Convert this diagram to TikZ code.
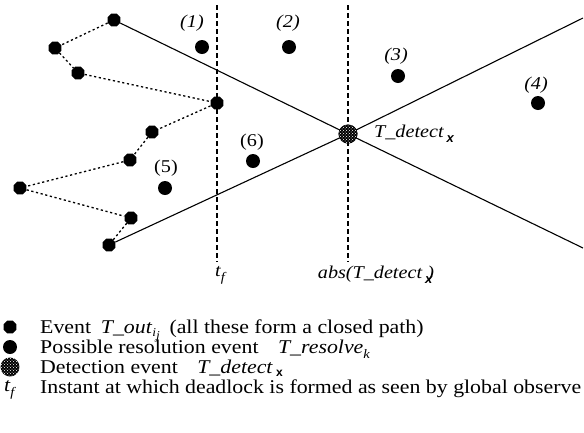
\documentclass[tikz,border=0pt]{standalone}
\usepackage{fontspec}
\setmainfont[FakeStretch=1.12]{Liberation Serif}
\setsansfont{Liberation Sans}
\usetikzlibrary{shapes.geometric,patterns}
\tikzset{
  ev/.style={regular polygon, regular polygon sides=8, fill=black, inner sep=0pt, minimum size=14pt},
  res/.style={circle, fill=black, inner sep=0pt, minimum size=14pt},
  det/.style={circle, fill=black, inner sep=0pt, minimum size=19pt, postaction={pattern=crosshatch dots, pattern color=white}},
  pathline/.style={line width=1.3pt, dash pattern=on 2.2pt off 2.6pt},
  cone/.style={line width=1.1pt},
  vline/.style={line width=1.1pt, dash pattern=on 5pt off 3pt},
  lab/.style={font=\fontsize{18}{19}\selectfont, inner sep=0pt},
  leg/.style={font=\fontsize{19.5}{20}\selectfont, inner sep=0pt, anchor=base west}
}
\newcommand{\subx}{\raisebox{-5pt}{\fontsize{13}{13}\selectfont\sffamily\bfseries x}}
\newcommand{\legsubx}{\raisebox{-3pt}{\fontsize{12}{12}\selectfont\sffamily\bfseries x}}
\newcommand{\subsc}[1]{\raisebox{-5pt}{\fontsize{13}{13}\selectfont\itshape #1}}
\begin{document}
\begin{tikzpicture}[x=1pt,y=-1pt]
\useasboundingbox (0,0) rectangle (584,432);
% events
\node[ev] (a) at (114,20) {};
\node[ev] (b) at (55,48) {};
\node[ev] (c) at (78,73) {};
\node[ev] (d) at (217,103) {};
\node[ev] (e) at (152,132) {};
\node[ev] (f) at (130,160) {};
\node[ev] (g) at (20,188) {};
\node[ev] (h) at (131,218) {};
\node[ev] (i) at (109,245) {};
% detection
\node[det] (x) at (348,134) {};
\coordinate (ebr) at (583,248);
\coordinate (etr) at (583,18);
% vertical lines
\coordinate (tftop) at (217,5);
\coordinate (tfbot) at (217,262);
\coordinate (abtop) at (348,5);
\coordinate (abbot) at (348,262);
\draw[vline] (tftop) -- (tfbot);
\draw[vline] (abtop) -- (abbot);
% cone lines
\draw[cone] (a) -- (x.center) -- (ebr);
\draw[cone] (i) -- (x.center) -- (etr);
\node[det] at (x) {};
% dotted path
\draw[pathline] (a) -- (b) -- (c) -- (d) -- (e) -- (f) -- (g) -- (h) -- (i);
% resolution events
\node[res] (r1) at (202,47) {};
\node[res] (r2) at (289,47) {};
\node[res] (r3) at (398,76) {};
\node[res] (r4) at (538,103) {};
\node[res] (r5) at (165,188) {};
\node[res] (r6) at (253,161) {};
\node[lab] (l1) at (192,23) {\itshape (1)};
\node[lab] (l2) at (288,23) {\itshape (2)};
\node[lab] (l3) at (396,56) {\itshape (3)};
\node[lab] (l4) at (536,85) {\itshape (4)};
\node[lab] (l5) at (166,168) {(5)};
\node[lab] (l6) at (252,142) {(6)};
\node[lab, anchor=west] (lx) at (374,134) {\itshape T\_detect\,\subx};
\node[lab] (ltf) at (220,275) {\itshape t\subsc{f}};
\node[lab] (lab) at (376,275) {\itshape abs(T\_detect\,\subx\kern-5pt)};
% legend
\node[ev] (s1) at (10,327) {};
\node[res] (s2) at (10,347) {};
\node[det] (s3) at (10,367) {};
\node[leg] (t1) at (40,333) {Event\enspace \textit{T\_out}\raisebox{-3pt}{\fontsize{12}{12}\selectfont\itshape i\raisebox{-3pt}{j}}\enspace (all these form a closed path)};
\node[leg] (t2) at (40,353) {Possible resolution event\quad \textit{T\_resolve}\subsc{k}};
\node[leg] (t3) at (40,373) {Detection event\quad \textit{T\_detect}\,\legsubx};
\node[leg] (t4tf) at (4,391) {\itshape t\subsc{f}};
\node[leg] (t4) at (40,393) {Instant at which deadlock is formed as seen by global observe};
\end{tikzpicture}
\end{document}
